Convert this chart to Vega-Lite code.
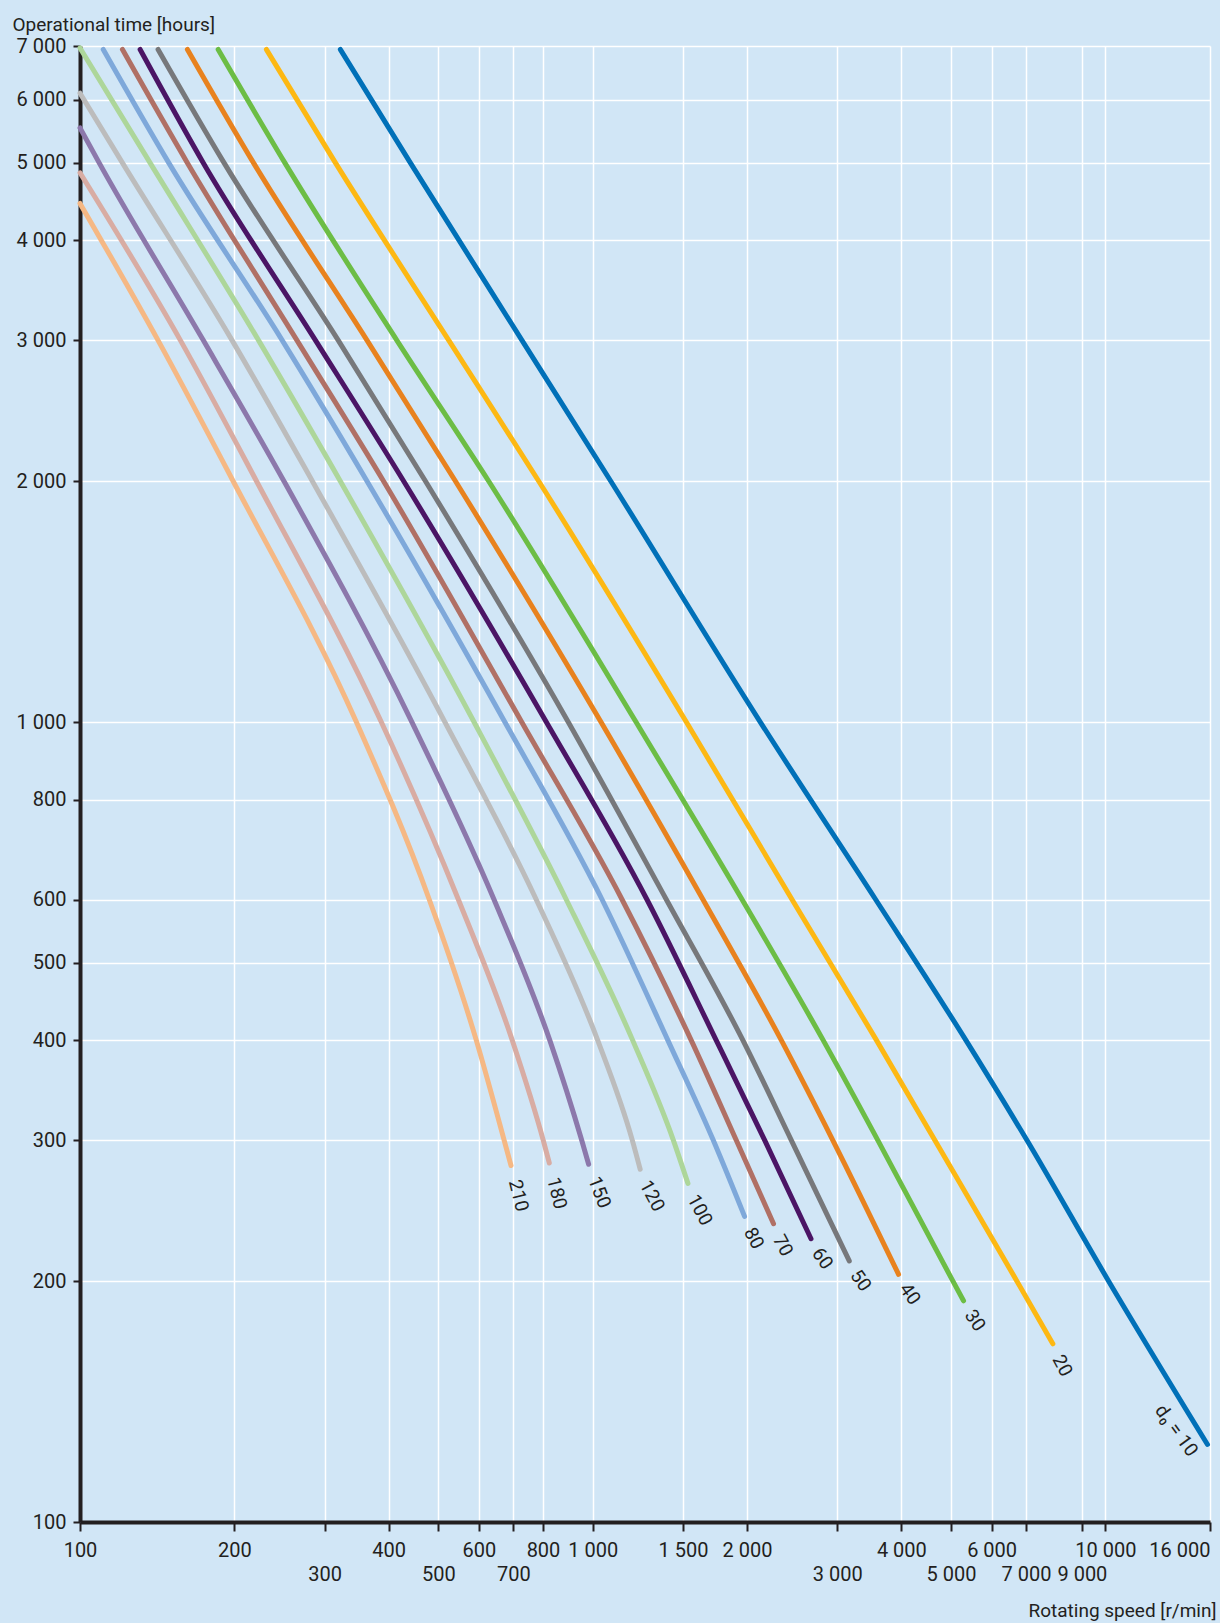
{
  "$schema": "https://vega.github.io/schema/vega-lite/v6.json",
  "width": 1130,
  "height": 1476,
  "autosize": {"type": "none"},
  "padding": {"left": 80, "top": 46, "right": 10, "bottom": 101},
  "background": "#d1e6f6",
  "config": {
    "view": {"stroke": null, "fill": "#d1e6f6"},
    "font": "Roboto",
    "axis": {
      "zindex": 1,
      "domainColor": "#231f20",
      "domainWidth": 4,
      "tickColor": "#231f20",
      "tickWidth": 2,
      "gridColor": "#ffffff",
      "gridWidth": 1.5,
      "gridOpacity": 1,
      "labelColor": "#231f20",
      "labelFont": "Roboto",
      "labelFontSize": 20,
      "titleColor": "#231f20",
      "titleFont": "Roboto",
      "titleFontSize": 19,
      "titleFontWeight": "normal",
      "labelOverlap": false,
      "labelBound": false,
      "labelFlush": false
    }
  },
  "datasets": {
    "curves": [
      {"d0": 10, "speed": 322, "hours": 6930},
      {"d0": 10, "speed": 441, "hours": 5000},
      {"d0": 10, "speed": 728, "hours": 3000},
      {"d0": 10, "speed": 1085, "hours": 2000},
      {"d0": 10, "speed": 2123, "hours": 1000},
      {"d0": 10, "speed": 3564, "hours": 600},
      {"d0": 10, "speed": 5348, "hours": 400},
      {"d0": 10, "speed": 7033, "hours": 300},
      {"d0": 10, "speed": 10150, "hours": 200},
      {"d0": 10, "speed": 15820, "hours": 125},

      {"d0": 20, "speed": 231, "hours": 6930},
      {"d0": 20, "speed": 315, "hours": 5000},
      {"d0": 20, "speed": 524, "hours": 3000},
      {"d0": 20, "speed": 785, "hours": 2000},
      {"d0": 20, "speed": 1523, "hours": 1000},
      {"d0": 20, "speed": 2448, "hours": 600},
      {"d0": 20, "speed": 3579, "hours": 400},
      {"d0": 20, "speed": 4650, "hours": 300},
      {"d0": 20, "speed": 6723, "hours": 200},
      {"d0": 20, "speed": 7900, "hours": 167},

      {"d0": 30, "speed": 186, "hours": 6930},
      {"d0": 30, "speed": 251, "hours": 5000},
      {"d0": 30, "speed": 415, "hours": 3000},
      {"d0": 30, "speed": 627, "hours": 2000},
      {"d0": 30, "speed": 1215, "hours": 1000},
      {"d0": 30, "speed": 1956, "hours": 600},
      {"d0": 30, "speed": 2817, "hours": 400},
      {"d0": 30, "speed": 3600, "hours": 300},
      {"d0": 30, "speed": 5043, "hours": 200},
      {"d0": 30, "speed": 5290, "hours": 189},

      {"d0": 40, "speed": 162, "hours": 6930},
      {"d0": 40, "speed": 218, "hours": 5000},
      {"d0": 40, "speed": 363, "hours": 3000},
      {"d0": 40, "speed": 540, "hours": 2000},
      {"d0": 40, "speed": 1038, "hours": 1000},
      {"d0": 40, "speed": 1641, "hours": 600},
      {"d0": 40, "speed": 2334, "hours": 400},
      {"d0": 40, "speed": 2941, "hours": 300},
      {"d0": 40, "speed": 3950, "hours": 204},

      {"d0": 50, "speed": 142, "hours": 6930},
      {"d0": 50, "speed": 191, "hours": 5000},
      {"d0": 50, "speed": 319, "hours": 3000},
      {"d0": 50, "speed": 472, "hours": 2000},
      {"d0": 50, "speed": 896, "hours": 1000},
      {"d0": 50, "speed": 1392, "hours": 600},
      {"d0": 50, "speed": 1964, "hours": 400},
      {"d0": 50, "speed": 2441, "hours": 300},
      {"d0": 50, "speed": 3166, "hours": 212},

      {"d0": 60, "speed": 131, "hours": 6930},
      {"d0": 60, "speed": 174, "hours": 5000},
      {"d0": 60, "speed": 288, "hours": 3000},
      {"d0": 60, "speed": 428, "hours": 2000},
      {"d0": 60, "speed": 812, "hours": 1000},
      {"d0": 60, "speed": 1276, "hours": 600},
      {"d0": 60, "speed": 1742, "hours": 400},
      {"d0": 60, "speed": 2166, "hours": 300},
      {"d0": 60, "speed": 2666, "hours": 226},

      {"d0": 70, "speed": 121, "hours": 6930},
      {"d0": 70, "speed": 162, "hours": 5000},
      {"d0": 70, "speed": 265, "hours": 3000},
      {"d0": 70, "speed": 391, "hours": 2000},
      {"d0": 70, "speed": 727, "hours": 1000},
      {"d0": 70, "speed": 1141, "hours": 600},
      {"d0": 70, "speed": 1557, "hours": 400},
      {"d0": 70, "speed": 1906, "hours": 300},
      {"d0": 70, "speed": 2253, "hours": 236},

      {"d0": 80, "speed": 111, "hours": 6930},
      {"d0": 80, "speed": 149, "hours": 5000},
      {"d0": 80, "speed": 248, "hours": 3000},
      {"d0": 80, "speed": 363, "hours": 2000},
      {"d0": 80, "speed": 674, "hours": 1000},
      {"d0": 80, "speed": 1043, "hours": 600},
      {"d0": 80, "speed": 1402, "hours": 400},
      {"d0": 80, "speed": 1719, "hours": 300},
      {"d0": 80, "speed": 1978, "hours": 241},

      {"d0": 100, "speed": 100, "hours": 6960},
      {"d0": 100, "speed": 137, "hours": 5000},
      {"d0": 100, "speed": 223, "hours": 3000},
      {"d0": 100, "speed": 322, "hours": 2000},
      {"d0": 100, "speed": 587, "hours": 1000},
      {"d0": 100, "speed": 888, "hours": 600},
      {"d0": 100, "speed": 1197, "hours": 400},
      {"d0": 100, "speed": 1437, "hours": 300},
      {"d0": 100, "speed": 1534, "hours": 265},

      {"d0": 120, "speed": 100, "hours": 6110},
      {"d0": 120, "speed": 121, "hours": 5000},
      {"d0": 120, "speed": 198, "hours": 3000},
      {"d0": 120, "speed": 284, "hours": 2000},
      {"d0": 120, "speed": 515, "hours": 1000},
      {"d0": 120, "speed": 776, "hours": 600},
      {"d0": 120, "speed": 1023, "hours": 400},
      {"d0": 120, "speed": 1195, "hours": 300},
      {"d0": 120, "speed": 1238, "hours": 276},

      {"d0": 150, "speed": 100, "hours": 5530},
      {"d0": 150, "speed": 109, "hours": 5000},
      {"d0": 150, "speed": 174, "hours": 3000},
      {"d0": 150, "speed": 250, "hours": 2000},
      {"d0": 150, "speed": 444, "hours": 1000},
      {"d0": 150, "speed": 642, "hours": 600},
      {"d0": 150, "speed": 825, "hours": 400},
      {"d0": 150, "speed": 952, "hours": 300},
      {"d0": 150, "speed": 982, "hours": 280},

      {"d0": 180, "speed": 100, "hours": 4860},
      {"d0": 180, "speed": 157, "hours": 3000},
      {"d0": 180, "speed": 221, "hours": 2000},
      {"d0": 180, "speed": 387, "hours": 1000},
      {"d0": 180, "speed": 547, "hours": 600},
      {"d0": 180, "speed": 697, "hours": 400},
      {"d0": 180, "speed": 801, "hours": 300},
      {"d0": 180, "speed": 823, "hours": 281},

      {"d0": 210, "speed": 100, "hours": 4450},
      {"d0": 210, "speed": 142, "hours": 3000},
      {"d0": 210, "speed": 199, "hours": 2000},
      {"d0": 210, "speed": 346, "hours": 1000},
      {"d0": 210, "speed": 480, "hours": 600},
      {"d0": 210, "speed": 593, "hours": 400},
      {"d0": 210, "speed": 672, "hours": 300},
      {"d0": 210, "speed": 693, "hours": 279}
    ]
  },
  "data": {"name": "curves"},
  "layer": [
    {
      "mark": {"type": "line", "strokeWidth": 5, "strokeCap": "round", "strokeJoin": "round", "interpolate": "monotone"},
      "encoding": {
        "x": {
          "field": "speed",
          "type": "quantitative",
          "scale": {"type": "log", "domain": [100, 16000], "nice": false},
          "axis": {
            "title": "Rotating speed [r/min]",
            "titleAnchor": null,
            "titleAlign": "right",
            "titleBaseline": "alphabetic",
            "titleX": 1136,
            "titleY": 94,
            "values": [100, 200, 300, 400, 500, 600, 700, 800, 1000, 1500, 2000, 3000, 4000, 5000, 6000, 7000, 9000, 10000, 16000],
            "labelExpr": "indexof([300, 500, 700, 3000, 5000, 7000, 9000], datum.value) >= 0 ? ['', replace(format(datum.value, ','), ',', ' ')] : replace(format(datum.value, ','), ',', ' ')",
            "labelAlign": {"condition": {"test": "datum.value == 16000", "value": "right"}, "value": "center"},
            "labelLineHeight": 24,
            "labelPadding": 9,
            "tickSize": 9,
            "grid": true
          }
        },
        "y": {
          "field": "hours",
          "type": "quantitative",
          "scale": {"type": "log", "domain": [100, 7000], "nice": false},
          "axis": {
            "title": "Operational time [hours]",
            "titleAngle": 0,
            "titleAnchor": null,
            "titleAlign": "left",
            "titleBaseline": "alphabetic",
            "titleX": -68,
            "titleY": -16,
            "values": [100, 200, 300, 400, 500, 600, 800, 1000, 2000, 3000, 4000, 5000, 6000, 7000],
            "labelExpr": "replace(format(datum.value, ','), ',', ' ')",
            "labelPadding": 7,
            "tickSize": 7,
            "grid": true
          }
        },
        "color": {
          "field": "d0",
          "type": "nominal",
          "scale": {
            "domain": [10, 20, 30, 40, 50, 60, 70, 80, 100, 120, 150, 180, 210],
            "range": ["#0070b8", "#fdb813", "#6cbd45", "#e8821e", "#77787b", "#4b1565", "#b07065", "#7ea8da", "#add69a", "#bcbcbc", "#8c78ab", "#d8aca3", "#f5b884"]
          },
          "legend": null
        }
      }
    },
    {
      "transform": [
        {"filter": {"field": "d0", "oneOf": [210, 180]}},
        {"aggregate": [{"op": "argmin", "field": "hours", "as": "end"}], "groupby": ["d0"]}
      ],
      "mark": {"type": "text", "angle": 76, "align": "left", "baseline": "middle", "dx": 15, "fontSize": 19, "font": "Roboto", "color": "#231f20"},
      "encoding": {
        "x": {"field": "end.speed", "type": "quantitative"},
        "y": {"field": "end.hours", "type": "quantitative"},
        "text": {"field": "d0", "type": "nominal"}
      }
    },
    {
      "transform": [
        {"filter": {"field": "d0", "oneOf": [150]}},
        {"aggregate": [{"op": "argmin", "field": "hours", "as": "end"}], "groupby": ["d0"]}
      ],
      "mark": {"type": "text", "angle": 69, "align": "left", "baseline": "middle", "dx": 14, "fontSize": 19, "font": "Roboto", "color": "#231f20"},
      "encoding": {
        "x": {"field": "end.speed", "type": "quantitative"},
        "y": {"field": "end.hours", "type": "quantitative"},
        "text": {"field": "d0", "type": "nominal"}
      }
    },
    {
      "transform": [
        {"filter": {"field": "d0", "oneOf": [120, 100, 80, 70, 20]}},
        {"aggregate": [{"op": "argmin", "field": "hours", "as": "end"}], "groupby": ["d0"]}
      ],
      "mark": {"type": "text", "angle": 62, "align": "left", "baseline": "middle", "dx": 13, "dy": 2, "fontSize": 19, "font": "Roboto", "color": "#231f20"},
      "encoding": {
        "x": {"field": "end.speed", "type": "quantitative"},
        "y": {"field": "end.hours", "type": "quantitative"},
        "text": {"field": "d0", "type": "nominal"}
      }
    },
    {
      "transform": [
        {"filter": {"field": "d0", "oneOf": [60, 50, 40, 30]}},
        {"aggregate": [{"op": "argmin", "field": "hours", "as": "end"}], "groupby": ["d0"]}
      ],
      "mark": {"type": "text", "angle": 55, "align": "left", "baseline": "middle", "dx": 12, "dy": 2, "fontSize": 19, "font": "Roboto", "color": "#231f20"},
      "encoding": {
        "x": {"field": "end.speed", "type": "quantitative"},
        "y": {"field": "end.hours", "type": "quantitative"},
        "text": {"field": "d0", "type": "nominal"}
      }
    },
    {
      "transform": [
        {"filter": {"field": "d0", "oneOf": [10]}},
        {"aggregate": [{"op": "argmin", "field": "hours", "as": "end"}], "groupby": ["d0"]}
      ],
      "mark": {"type": "text", "angle": 54, "align": "right", "baseline": "middle", "dx": 0, "dy": 17, "fontSize": 19, "font": "Roboto", "color": "#231f20", "text": "d₀ = 10"},
      "encoding": {
        "x": {"field": "end.speed", "type": "quantitative"},
        "y": {"field": "end.hours", "type": "quantitative"}
      }
    }
  ]
}
